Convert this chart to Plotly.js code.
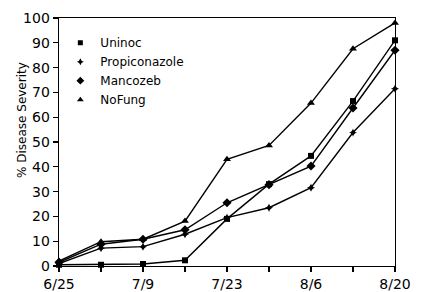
<!DOCTYPE html>
<html>
<head>
<meta charset="utf-8">
<script src="https://cdn.plot.ly/plotly-3.0.1.min.js"></script>
<style>html,body{margin:0;padding:0;background:#fff;}#chart{width:422px;height:292px;}</style>
</head>
<body>
<div id="chart"></div>
<script>
const dates = ['1990-06-25','1990-07-02','1990-07-09','1990-07-16','1990-07-23','1990-07-30','1990-08-06','1990-08-13','1990-08-20'];
const tickLabels = ['6/25','','7/9','','7/23','','8/6','','8/20'];
const seriesNames = ['Uninoc','Propiconazole','Mancozeb','NoFung'];
const uninoc = [0.5, 0.5, 0.8, 2.3, 19, 33, 44.4, 66.5, 91];
const propiconazole = [1, 7.2, 7.8, 12.8, 19.5, 23.5, 31.6, 53.8, 71.5];
const mancozeb = [1.5, 8.8, 10.8, 14.6, 25.5, 32.8, 40.3, 63.7, 87];
const nofung = [2, 9.8, 10.8, 18.1, 43, 48.6, 65.7, 87.6, 98];
const symbols = ['square','star-diamond','diamond','triangle-up'];
const sizes = [6, 6, 7, 7];
const allSeries = [uninoc, propiconazole, mancozeb, nofung];

const traces = [];
allSeries.forEach((ys, i) => {
  traces.push({
    x: dates, y: ys, type: 'scatter', mode: 'lines+markers', name: seriesNames[i],
    showlegend: false, cliponaxis: false,
    line: {color: '#000', width: 1.4},
    marker: {symbol: symbols[i], size: sizes[i], color: '#000'}
  });
});
seriesNames.forEach((n, i) => {
  traces.push({
    x: [null], y: [null], type: 'scatter', mode: 'markers', name: n,
    marker: {symbol: symbols[i], size: sizes[i] - 1, color: '#000'}
  });
});

const layout = {
  width: 422, height: 292,
  margin: {l: 59, r: 27, t: 18, b: 26, pad: 0},
  paper_bgcolor: '#fff', plot_bgcolor: '#fff',
  font: {family: 'DejaVu Sans, sans-serif', color: '#000', size: 14},
  showlegend: true,
  legend: {x: 0.004, y: 0.959, xanchor: 'left', yanchor: 'top', bgcolor: 'rgba(0,0,0,0)',
           font: {size: 12, color: '#000'}, tracegroupgap: 0},
  xaxis: {
    type: 'date', range: [dates[0], dates[dates.length - 1]],
    tickvals: dates, ticktext: tickLabels,
    ticks: 'outside', ticklen: 5, tickwidth: 1.2, tickcolor: '#000',
    showline: true, linecolor: '#000', linewidth: 1.4, mirror: true,
    showgrid: false, zeroline: false, tickfont: {size: 14}
  },
  yaxis: {
    range: [0, 100], dtick: 10, tick0: 0,
    ticks: 'outside', ticklen: 5, tickwidth: 1.2, tickcolor: '#000',
    showline: true, linecolor: '#000', linewidth: 1.4, mirror: true,
    showgrid: false, zeroline: false, tickfont: {size: 14}
  },
  annotations: [{
    text: '% Disease Severity', textangle: -90, showarrow: false,
    xref: 'paper', yref: 'paper', x: -0.11, y: 0.589, xanchor: 'center', yanchor: 'middle',
    font: {size: 12, color: '#000'}
  }]
};
Plotly.newPlot('chart', traces, layout, {displayModeBar: false, staticPlot: true});
</script>
</body>
</html>
